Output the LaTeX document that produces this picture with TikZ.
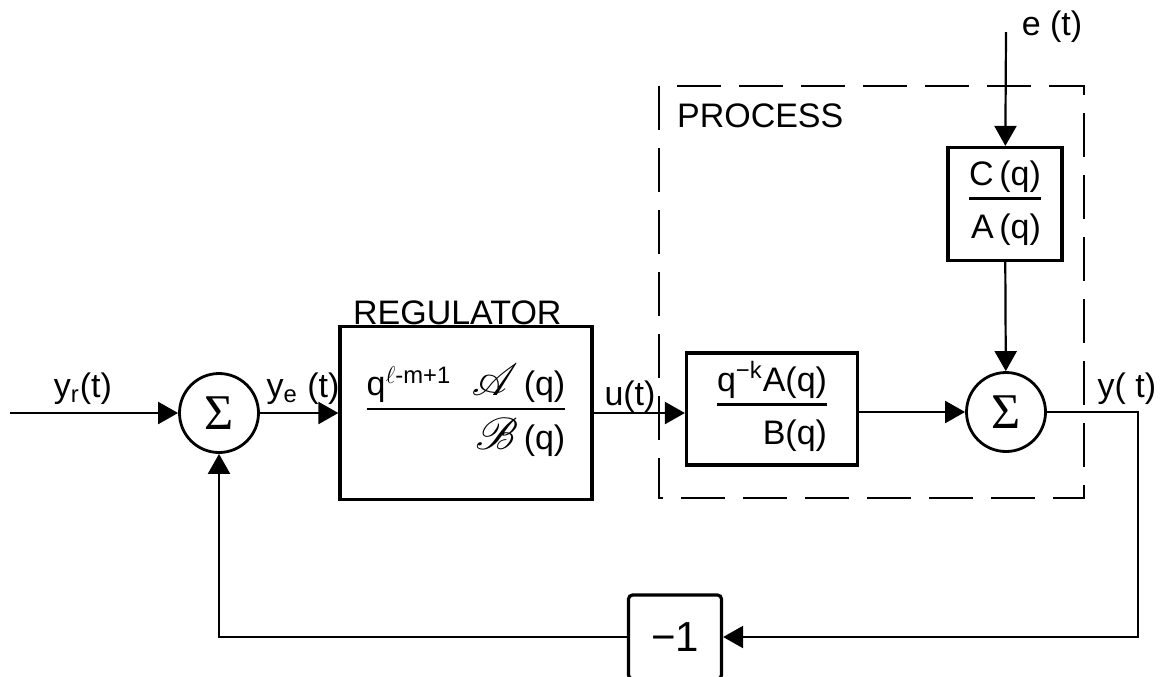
\documentclass[tikz,border=0pt]{standalone}
\usepackage{fontspec}
\usepackage{mathrsfs}
\usepackage{tikz}
\usetikzlibrary{arrows.meta}
\setmainfont{Liberation Sans}
\newfontfamily\sigfont{Liberation Serif}
\setlength{\arrayrulewidth}{1.2pt}
\newcommand{\frc}[2]{\begin{tabular}{@{}r@{}}#1\\\hline\rule{0pt}{1.15em}#2\end{tabular}}
\newcommand{\scr}[1]{\scalebox{1.3}{$\mathscr{#1}$}}

\begin{document}
\begin{tikzpicture}[x=0.5pt,y=-0.5pt,
    flow/.style={line width=1.1pt,-{Triangle[length=10pt,width=11pt]}},
    block/.style={draw,line width=1.6pt,inner sep=0pt,font=\fontsize{17}{20}\selectfont},
    sumnode/.style={draw,circle,line width=1.4pt,minimum size=39.5pt,inner sep=0pt,font=\sigfont\fontsize{25}{25}\selectfont},
    lbl/.style={font=\fontsize{17}{20}\selectfont}]
    \useasboundingbox (0,0) rectangle (1166,676);
    \clip (0,0) rectangle (1166,676);

    % Process frame
    \draw[line width=1pt, dash pattern=on 22pt off 9pt] (659,86) rectangle (1084,498);
    \node[lbl, anchor=base west] (proclbl) at (670,127) {PROCESS};

    % Blocks
    \node[sumnode] (s1) at (219,413) {Σ};
    \node[block, minimum width=126pt, minimum height=86.5pt] (reg) at (466,413)
        {\frc{q\textsuperscript{$\ell$-m+1}\hspace{0.6em}\scr{A}\,(q)}{\scr{B}\,(q)}};
    \node[lbl, anchor=base west] (reglbl) at (346,324) {REGULATOR};
    \node[block, minimum width=85.5pt, minimum height=56pt] (proc) at (772,409)
        {\frc{q\textsuperscript{−k}A(q)}{B(q)}};
    \node[block, minimum width=57pt, minimum height=56.5pt] (cbox) at (1005,204)
        {\frc{C\,(q)}{A\,(q)}};
    \node[sumnode] (s2) at (1006,412) {Σ};
    \node[block, rounded corners=2pt, minimum width=46.5pt, minimum height=42pt,
          font=\fontsize{21}{21}\selectfont] (neg) at (675,637) {−1};

    % Signals
    \coordinate (yin) at (10,413);
    \coordinate (ein) at (1006,32);
    \coordinate (ycorner) at (1138,412);
    \node[lbl] (yr) at (83,389) {y\textsubscript{r}(t)};
    \node[lbl] (ye) at (303,389) {y\textsubscript{e} (t)};
    \node[lbl] (u) at (630,397) {u(t)};
    \node[lbl] (e) at (1052,27) {e (t)};
    \node[lbl] (y) at (1127,389) {y( t)};

    % Connections
    \draw[flow] (yin) -- (s1);
    \draw[flow] (s1) -- (reg);
    \draw[flow] (reg.east) -- (reg.east -| proc.west);
    \draw[flow] (proc.east |- s2.west) -- (s2);
    \draw[flow] (ein) -- (cbox);
    \draw[flow] (cbox) -- (s2);
    \draw[flow] (s2) -- (ycorner) |- (neg);
    \draw[flow] (neg) -| (s1);
\end{tikzpicture}
\end{document}
